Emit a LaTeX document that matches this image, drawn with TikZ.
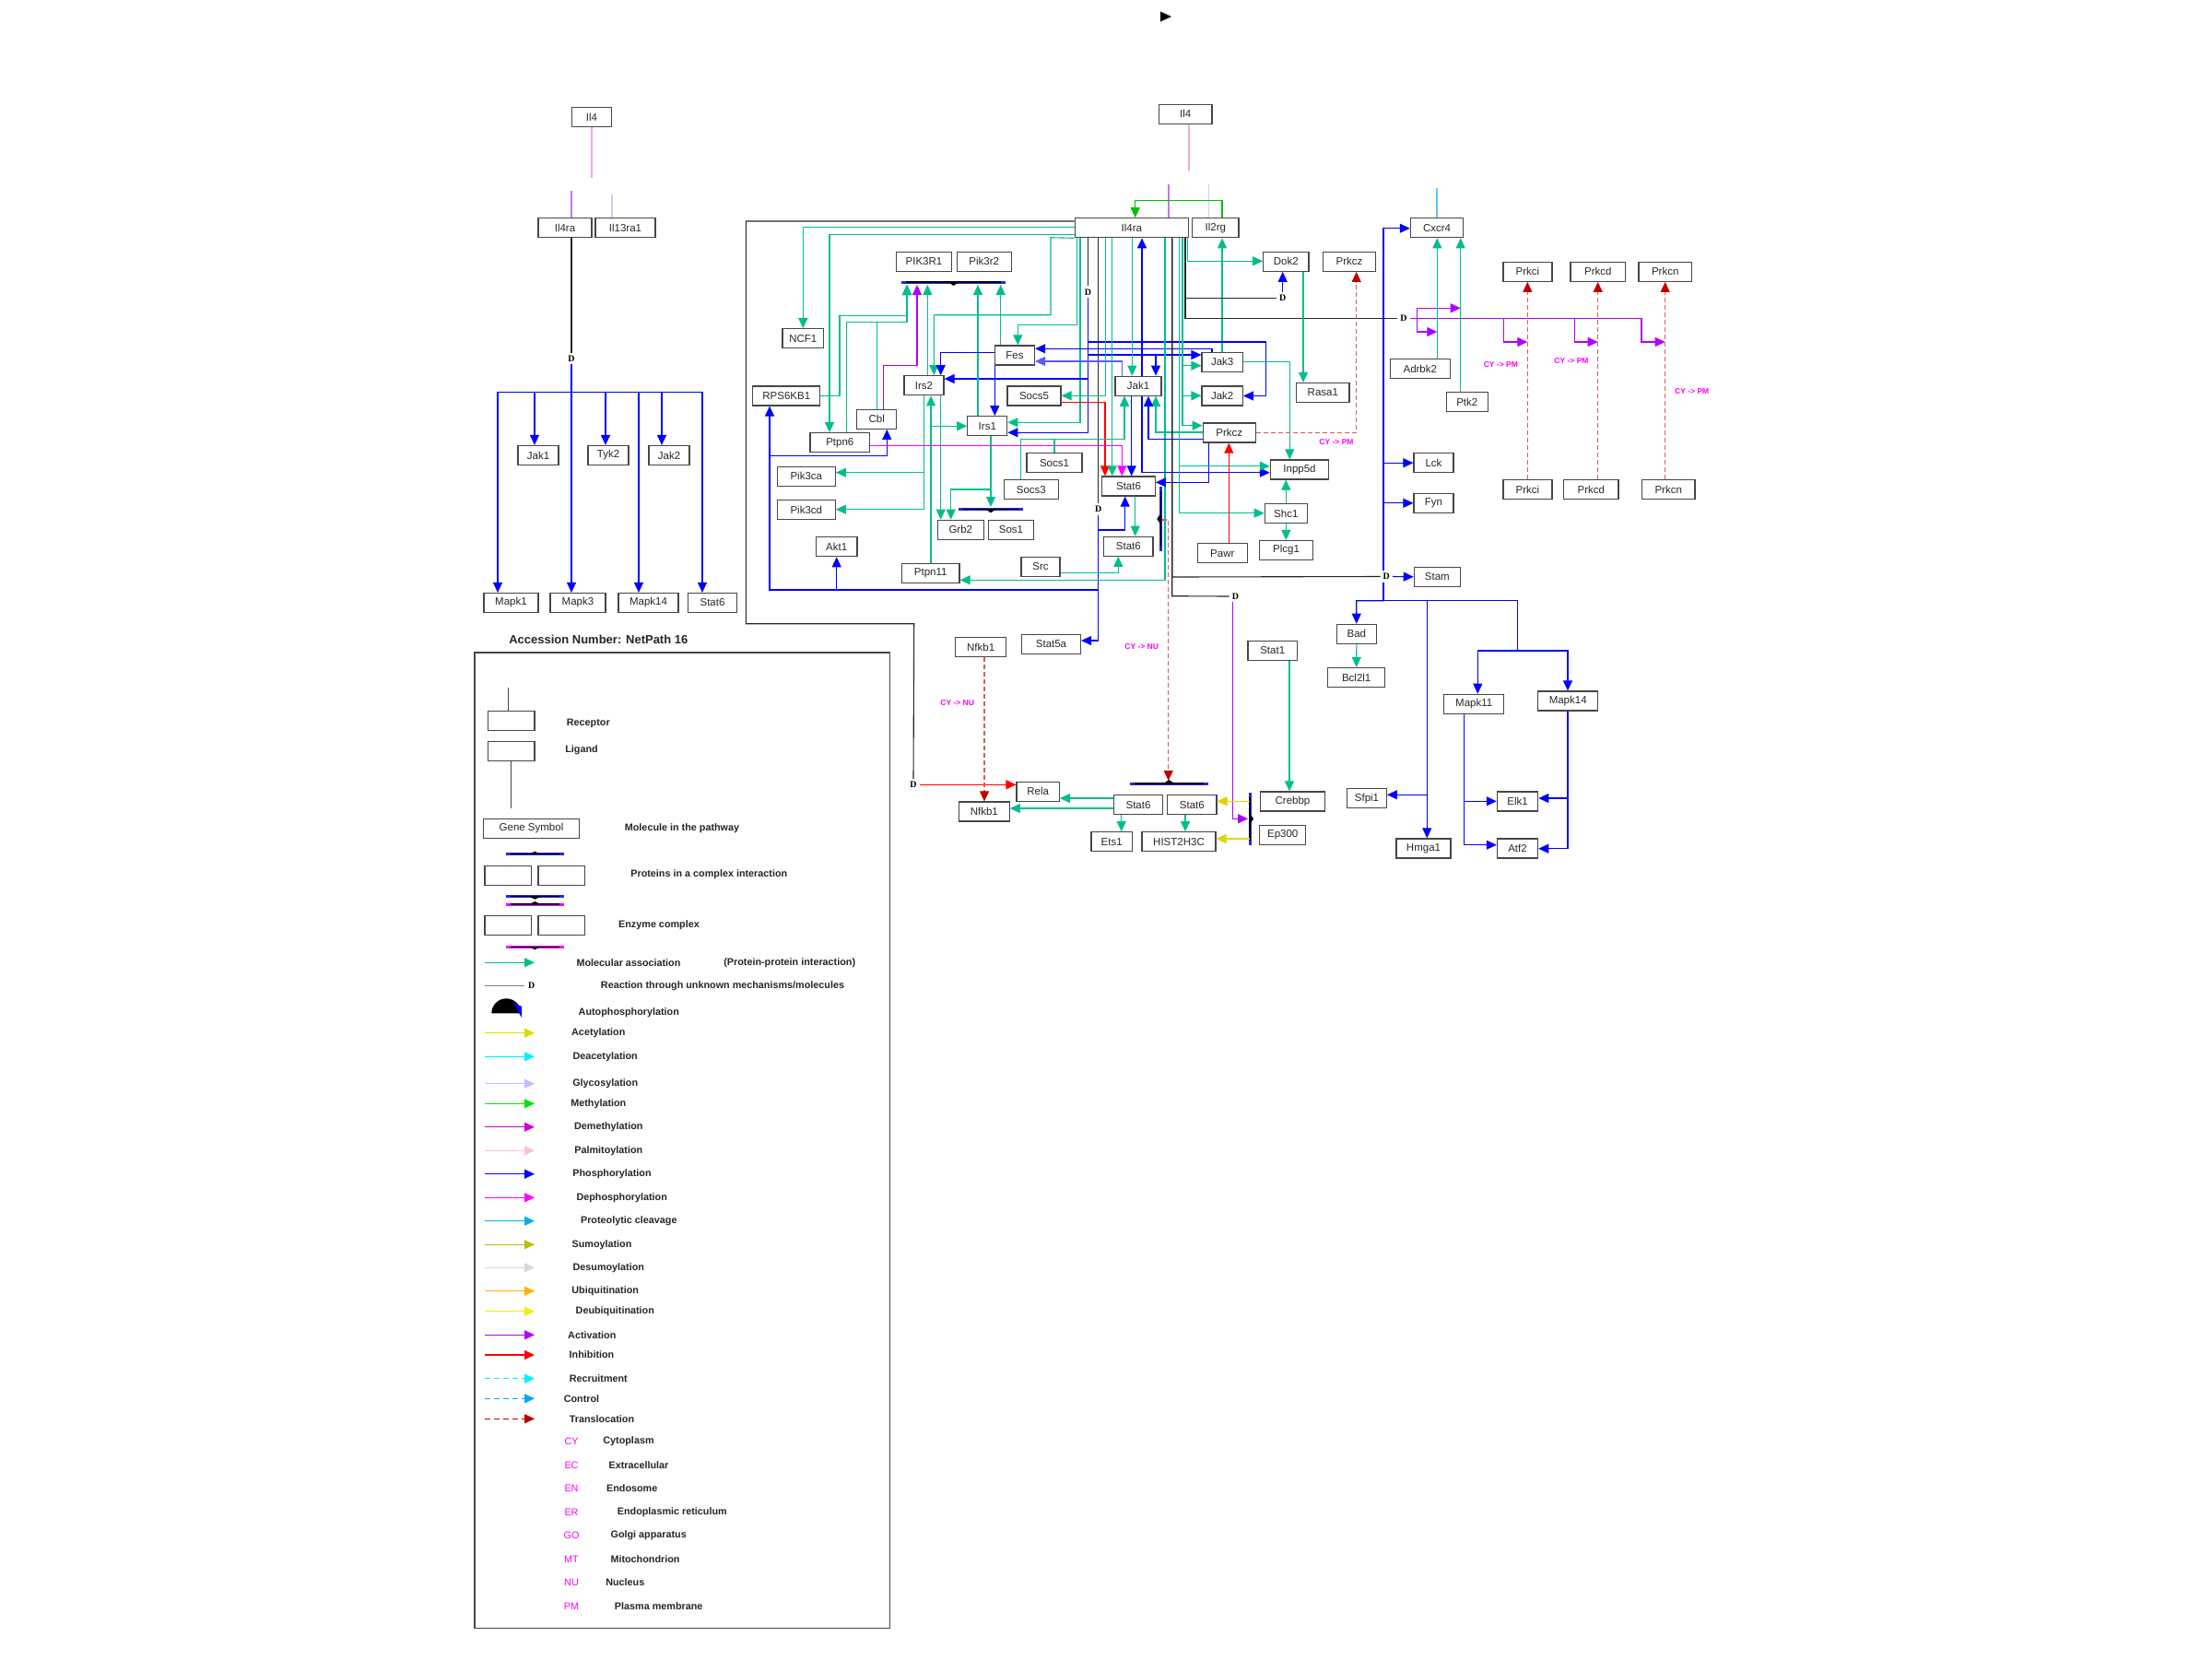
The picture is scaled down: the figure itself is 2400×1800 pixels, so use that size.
\documentclass[tikz,border=0pt]{standalone}
\usepackage{fontspec}
\setmainfont{Liberation Sans}
\newfontfamily\dfont{Liberation Serif}
\usetikzlibrary{arrows.meta}
\definecolor{assoc}{RGB}{0,190,140}
\definecolor{phos}{RGB}{0,0,255}
\definecolor{phosl}{RGB}{90,90,255}
\definecolor{dephos}{RGB}{255,0,255}
\definecolor{activ}{RGB}{176,0,255}
\definecolor{inhib}{RGB}{255,0,0}
\definecolor{transtip}{RGB}{192,0,0}
\definecolor{transl}{RGB}{215,90,90}
\definecolor{methyl}{RGB}{0,190,0}
\definecolor{acetyl}{RGB}{220,215,0}
\definecolor{ligpink}{RGB}{235,170,225}
\definecolor{recpurple}{RGB}{190,120,240}
\definecolor{reclav}{RGB}{215,200,245}
\definecolor{cxblue}{RGB}{90,200,240}
\definecolor{barblue}{RGB}{40,40,220}
\definecolor{boxgray}{RGB}{70,70,70}
\definecolor{txtgray}{RGB}{40,40,40}
\definecolor{lgacet}{RGB}{220,220,0}
\definecolor{lgdeac}{RGB}{0,240,255}
\definecolor{lgglyc}{RGB}{190,190,255}
\definecolor{lgmeth}{RGB}{0,230,0}
\definecolor{lgdemeth}{RGB}{210,0,210}
\definecolor{lgpalm}{RGB}{255,190,225}
\definecolor{lgprot}{RGB}{0,180,230}
\definecolor{lgsumo}{RGB}{190,190,0}
\definecolor{lgdesumo}{RGB}{215,215,215}
\definecolor{lgubiq}{RGB}{255,180,0}
\definecolor{lgdeubiq}{RGB}{240,240,0}
\definecolor{lgrecr}{RGB}{0,240,255}
\definecolor{lgctrl}{RGB}{0,170,240}
\newcommand{\cplxbar}[5]{%
  \draw[line width=3pt,#4] (#1,#3) -- (#2,#3);
  \draw[line width=1.3pt,black] ({#1+5},#3) -- ({#2-5},#3);
  \fill[black] ({(#1+#2)/2-6},#3) -- ({(#1+#2)/2},{#3#5}) -- ({(#1+#2)/2+6},#3) -- cycle;}
\newcommand{\cplxvbar}[5]{%
  \draw[line width=3pt,#4] (#1,#2) -- (#1,#3);
  \draw[line width=1.3pt,black] (#1,{#2+5}) -- (#1,{#3-5});
  \fill[black] (#1,{(#2+#3)/2-6}) -- ({#1#5},{(#2+#3)/2}) -- (#1,{(#2+#3)/2+6}) -- cycle;}
\tikzset{
  gene/.style={draw=boxgray, line width=1.2pt, fill=white, minimum height=21pt, inner sep=0pt, text=txtgray, font=\fontsize{11.5}{13}\selectfont},
  dnode/.style={font=\dfont\bfseries\fontsize{10}{11}\selectfont, inner sep=3pt, text=black},
  ahd/.style={-{Triangle[length=11pt,width=10pt]}},
  cn/.style={line width=1.1pt},
  asc/.style={cn, ahd, draw=assoc},
  ph/.style={cn, ahd, draw=phos},
  phl/.style={cn, ahd, draw=phosl},
  dph/.style={cn, ahd, draw=dephos},
  actv/.style={cn, ahd, draw=activ},
  inh/.style={cn, ahd, draw=inhib},
  mth/.style={cn, ahd, draw=methyl},
  acy/.style={cn, ahd, draw=acetyl},
  trl/.style={cn, -{Triangle[length=11pt,width=10pt,color=transtip]}, draw=transl, dash pattern=on 5pt off 3pt},
  blk/.style={cn, draw=black!85},
  cyl/.style={font=\bfseries\fontsize{8.5}{10}\selectfont, text=dephos},
  lgl/.style={font=\bfseries\fontsize{10.8}{12}\selectfont, text=black!85},
  lgc/.style={font=\fontsize{10.8}{12}\selectfont, text=dephos},
}
\begin{document}
\begin{tikzpicture}[x=1pt,y=-1pt]
\useasboundingbox (0,0) rectangle (2400,1800);
\fill[white] (0,0) rectangle (2400,1800);
\fill[black] (1259,12.5) -- (1271,18) -- (1259,23.5) -- cycle;

% ---------------- left receptor module
\node[gene, minimum width=43pt] (il4L) at (642,127) {Il4};
\node[gene, minimum width=58pt] (il4raL) at (613,247) {Il4ra};
\node[gene, minimum width=65pt] (il13ra1) at (678.5,247) {Il13ra1};
\node[gene, minimum width=44pt] (jak1L) at (584,494) {Jak1};
\node[gene, minimum width=44pt] (tyk2) at (660,494) {Tyk2};
\node[gene, minimum width=44pt] (jak2L) at (726,494) {Jak2};
\node[gene, minimum width=59pt] (mapk1) at (554.5,654) {Mapk1};
\node[gene, minimum width=60pt] (mapk3) at (627,654) {Mapk3};
\node[gene, minimum width=65pt] (mapk14L) at (703.5,654) {Mapk14};
\node[gene, minimum width=53pt] (stat6L) at (773,654) {Stat6};
\node[dnode] (dL) at (620,389) {D};

\draw[cn, draw=ligpink] (il4L.south) -- (642,192.5);
\draw[cn, draw=recpurple] (620,207) -- (il4raL.north -| 620,0);
\draw[cn, draw=reclav] (664,211) -- (il13ra1.north -| 664,0);
\draw[blk] (il4raL.south -| 620,0) -- (dL.north);
\foreach \n/\x in {mapk1/540, jak1L/580, mapk3/620, tyk2/657, mapk14L/693, jak2L/718, stat6L/762}
  \draw[ph] (dL.south) -- (620,425.5) -- (\x,425.5) -- (\n.north -| \x,0);

% ---------------- central nodes
\node[gene, minimum width=57.7pt] (il4R) at (1286.2,123.7) {Il4};
\node[gene, minimum width=123pt] (il4raR) at (1227.8,247.2) {Il4ra};
\node[gene, minimum width=50.3pt] (il2rg) at (1318.8,247.2) {Il2rg};
\node[gene, minimum width=60pt] (pik3r1) at (1002.5,283.7) {PIK3R1};
\node[gene, minimum width=59pt] (pik3r2) at (1067.7,283.7) {Pik3r2};
\node[gene, minimum width=44.7pt] (ncf1) at (871.3,367.2) {NCF1};
\node[gene, minimum width=73pt] (rps6kb1) at (853.3,429.5) {RPS6KB1};
\node[gene, minimum width=43pt] (fes) at (1101,385.5) {Fes};
\node[gene, minimum width=43pt] (irs2) at (1002.5,418.3) {Irs2};
\node[gene, minimum width=58pt] (socs5) at (1122,429.5) {Socs5};
\node[gene, minimum width=43pt] (cbl) at (951.3,454.8) {Cbl};
\node[gene, minimum width=43pt] (irs1) at (1071.3,462.2) {Irs1};
\node[gene, minimum width=64.7pt] (ptpn6) at (911.3,480.2) {Ptpn6};
\node[gene, minimum width=60pt] (socs1) at (1144,502.2) {Socs1};
\node[gene, minimum width=63pt] (pik3ca) at (874.8,516.7) {Pik3ca};
\node[gene, minimum width=63pt] (pik3cd) at (874.8,553) {Pik3cd};
\node[gene, minimum width=59pt] (socs3) at (1118.8,531.2) {Socs3};
\node[gene, minimum width=50pt] (grb2) at (1042.3,574.8) {Grb2};
\node[gene, minimum width=49pt] (sos1) at (1097,574.8) {Sos1};
\node[gene, minimum width=44.7pt] (akt1) at (907.7,593.2) {Akt1};
\node[gene, minimum width=62.7pt] (ptpn11) at (1009.7,622.2) {Ptpn11};
\node[gene, minimum width=42pt] (src) at (1129,614.8) {Src};
\node[gene, minimum width=50pt] (jak1C) at (1235,418.7) {Jak1};
\node[gene, minimum width=44.3pt] (jak3) at (1326.2,392.8) {Jak3};
\node[gene, minimum width=44.3pt] (jak2C) at (1326.2,429.5) {Jak2};
\node[gene, minimum width=57pt] (prkczC) at (1333.7,469.5) {Prkcz};
\node[gene, minimum width=57.7pt] (stat6u) at (1224.5,527.5) {Stat6};
\node[gene, minimum width=53.3pt] (stat6d) at (1224.3,592.8) {Stat6};
\node[gene, minimum width=63.3pt] (inpp5d) at (1410,509.5) {Inpp5d};
\node[gene, minimum width=46pt] (shc1) at (1395.3,557) {Shc1};
\node[gene, minimum width=57.7pt] (plcg1) at (1395.5,597) {Plcg1};
\node[gene, minimum width=54pt] (pawr) at (1326.3,600.3) {Pawr};
\node[gene, minimum width=57.3pt] (rasa1) at (1435.3,426) {Rasa1};
\node[gene, minimum width=49.3pt] (dok2) at (1395.3,283.8) {Dok2};
\node[gene, minimum width=57pt] (prkczT) at (1464,283.8) {Prkcz};
\node[gene, minimum width=57.3pt] (cxcr4) at (1559,247.2) {Cxcr4};
\node[gene, minimum width=65pt] (adrbk2) at (1540.8,400) {Adrbk2};
\node[gene, minimum width=45pt] (ptk2) at (1591.8,436.3) {Ptk2};
\node[gene, minimum width=53pt] (prkciT) at (1657.5,294.8) {Prkci};
\node[gene, minimum width=59.7pt] (prkcdT) at (1733.8,294.8) {Prkcd};
\node[gene, minimum width=57.3pt] (prkcnT) at (1806.7,294.8) {Prkcn};
\node[gene, minimum width=53pt] (prkciB) at (1657.5,531.2) {Prkci};
\node[gene, minimum width=59.3pt] (prkcdB) at (1726.3,531.2) {Prkcd};
\node[gene, minimum width=57.7pt] (prkcnB) at (1810.2,531.2) {Prkcn};
\node[gene, minimum width=43pt] (lck) at (1555.5,502.2) {Lck};
\node[gene, minimum width=43pt] (fyn) at (1555.5,545.8) {Fyn};
\node[gene, minimum width=50pt] (stam) at (1559.3,625.8) {Stam};
\node[gene, minimum width=43pt] (bad) at (1471.8,687.8) {Bad};
\node[gene, minimum width=62pt] (bcl2l1) at (1471.7,735) {Bcl2l1};
\node[gene, minimum width=53.3pt] (stat1) at (1380.7,706) {Stat1};
\node[gene, minimum width=65pt] (mapk11) at (1599.2,763.8) {Mapk11};
\node[gene, minimum width=65pt] (mapk14R) at (1701.2,760.5) {Mapk14};
\node[gene, minimum width=44.3pt] (elk1) at (1646.5,869.5) {Elk1};
\node[gene, minimum width=44.3pt] (atf2) at (1646.5,920.5) {Atf2};
\node[gene, minimum width=42.7pt] (sfpi1) at (1483,866.2) {Sfpi1};
\node[gene, minimum width=59pt] (hmga1) at (1544.5,920.5) {Hmga1};
\node[gene, minimum width=69.7pt] (crebbp) at (1402.5,869.5) {Crebbp};
\node[gene, minimum width=50pt] (ep300) at (1391.7,905.8) {Ep300};
\node[gene, minimum width=55pt] (nfkb1T) at (1064.2,702.2) {Nfkb1};
\node[gene, minimum width=64pt] (stat5a) at (1140.5,698.8) {Stat5a};
\node[gene, minimum width=46.3pt] (rela) at (1126.2,858.8) {Rela};
\node[gene, minimum width=55pt] (nfkb1B) at (1067.8,880.5) {Nfkb1};
\node[gene, minimum width=53.3pt] (stat6a) at (1235,873.2) {Stat6};
\node[gene, minimum width=53.3pt] (stat6b) at (1293.3,873.2) {Stat6};
\node[gene, minimum width=44.3pt] (ets1) at (1206.2,913.2) {Ets1};
\node[gene, minimum width=80pt] (hist) at (1279,913.2) {HIST2H3C};

\node[dnode] (dA) at (1180.5,316.8) {D};
\node[dnode] (dB) at (1191.7,552.4) {D};
\node[dnode] (dC) at (1391.7,323.5) {D};
\node[dnode] (dE) at (1523,345.7) {D};
\node[dnode] (dF) at (1504.3,625.5) {D};
\node[dnode] (dG) at (1340.5,647) {D};
\node[dnode] (dH) at (991,851.3) {D};

% complexes
\cplxbar{978}{1091}{306}{barblue}{+4}
\coordinate (pikbar) at (1034,309);
\cplxbar{1040}{1110}{552.3}{barblue}{+4}
\coordinate (grbbar) at (1075,550);
\cplxbar{1226}{1310.7}{850}{barblue}{-4}
\coordinate (nucbar) at (1268,847);
\cplxvbar{1259.3}{528}{598}{barblue}{-4}
\cplxvbar{1356}{860}{916.7}{barblue}{+4}
\coordinate (cbbr) at (1354,888.3);
\coordinate (tci) at (1657.3,371);
\coordinate (tcd) at (1733.7,371);
\coordinate (tcn) at (1806.7,371);
\coordinate (tptk) at (1584.7,334.3);
\coordinate (tadr) at (1559.3,360);

% ---------------- right receptor
\draw[cn, draw=ligpink] (il4R.south -| 1290,0) -- (1290,185);
\draw[cn, draw=recpurple] (1268,200) -- (il4raR.north -| 1268,0);
\draw[cn, draw=reclav] (1311.7,200) -- (il2rg.north -| 1311.7,0);
\draw[mth] (il2rg.north -| 1326,0) -- (1326,217.7) -- (1231.7,217.7) -- (il4raR.north -| 1231.7,0);
\draw[asc] (jak3.north -| 1326,0) -- (il2rg.south -| 1326,0);

% black frame line to Rela
\draw[blk] (il4raR.west |- 0,240) -- (809.3,240) -- (809.3,676.7) -- (991.7,676.7) -- (dH.north);
\draw[inh] (dH.east) -- (rela.west |- dH.east);

% green lines from Il4ra to left
\draw[asc] (il4raR.west |- 0,246.7) -- (871.3,246.7) -- (ncf1.north);
\draw[asc] (il4raR.west |- 0,254.3) -- (900,254.3) -- (ptpn6.north -| 900,0);
\draw[asc] (il4raR.south west) -- (1140,257.7) -- (1140,341.7) -- (1013.3,341.7) -- (irs2.north -| 1013.3,0);
\draw[asc] (il4raR.south -| 1168.5,0) -- (1168.5,352.7) -- (1104.3,352.7) -- (fes.north -| 1104.3,0);
\draw[asc] (il4raR.south -| 1172,0) -- (1172,458.3) -- (irs1.east |- 0,458.3);

% D(A)
\draw[blk] (il4raR.south -| 1180.5,0) -- (dA.north);
\draw[ph] (dA.south) -- (1180.5,469.3) -- (irs1.east |- 0,469.3);
\draw[ph] (dA.south) -- (1180.5,411) -- (irs2.east |- 0,411);
\draw[ph] (dA.south) -- (1180.5,385) -- (jak3.west |- 0,385);
\draw[ph] (dA.south) -- (1180.5,385) -- (1254,385) -- (jak1C.north -| 1254,0);
\draw[ph] (dA.south) -- (1180.5,371) -- (1373.3,371) -- (1373.3,429.5) -- (jak2C.east);

% D(B)
\draw[blk] (il4raR.south -| 1191.7,0) -- (dB.north);
\draw[ph] (dB.south) -- (1191.7,695) -- (stat5a.east |- 0,695);
\draw[ph] (dB.south) -- (1191.7,575) -- (1220.7,575) -- (stat6u.south -| 1220.7,0);
\draw[ph] (dB.south) -- (1191.7,640) -- (835,640) -- (rps6kb1.south -| 835,0);
\draw[ph] (dB.south) -- (1191.7,640) -- (907.7,640) -- (akt1.south);
\draw[ph] (dB.south) -- (1191.7,640) -- (835,640) -- (835,494.3) -- (962.3,494.3) -- (cbl.south -| 962.3,0);

% PIK3 complex
\draw[asc] (rps6kb1.east) -- (911,429.5) -- (911,342.3) -- (984,342.3) -- (984,0 |- pikbar);
\draw[asc] (ptpn6.north -| 918.3,0) -- (918.3,349.3) -- (984,349.3) -- (984,0 |- pikbar);
\draw[asc] (cbl.north -| 951.7,0) -- (951.7,349.3) -- (984,349.3) -- (984,0 |- pikbar);
\draw[actv] (cbl.north -| 958.7,0) -- (958.7,396.7) -- (995,396.7) -- (995,0 |- pikbar);
\draw[asc] (irs2.north -| 1006.3,0) -- (1006.3,0 |- pikbar);
\draw[asc] (irs1.north -| 1061,0) -- (1061,0 |- pikbar);
\draw[asc] (fes.north -| 1085.7,0) -- (1085.7,0 |- pikbar);

% Irs2 / Irs1
\draw[asc] (irs2.south -| 1002.3,0) -- (1002.3,512.7) -- (pik3ca.east |- 0,512.7);
\draw[asc] (irs2.south -| 1002.3,0) -- (1002.3,552.7) -- (pik3cd.east |- 0,552.7);
\draw[asc] (irs2.south -| 1020.7,0) -- (grb2.north -| 1020.7,0);
\draw[asc] (ptpn11.north -| 1010,0) -- (irs2.south -| 1010,0);
\draw[asc] (ptpn11.north -| 1010,0) -- (1010,462.3) -- (irs1.west |- 0,462.3);
\draw[asc] (irs1.south -| 1075,0) -- (1075,531) -- (1031.7,531) -- (grb2.north -| 1031.7,0);
\draw[asc] (irs1.south -| 1075,0) -- (grbbar);

% Fes
\draw[ph] (fes.west |- 0,382.3) -- (1020.7,382.3) -- (irs2.north -| 1020.7,0);
\draw[ph] (fes.south -| 1079.3,0) -- (irs1.north -| 1079.3,0);
\draw[ph] (jak3.north -| 1315,0) -- (1315,378.3) -- (fes.east |- 0,378.3);
\draw[phl] (jak1C.north -| 1217.3,0) -- (1217.3,392) -- (fes.east |- 0,392);

% Ptpn11, Src, Stat6
\draw[asc] (il4raR.south -| 1264,0) -- (1264,629.3) -- (ptpn11.east |- 0,629.3);
\draw[asc] (src.east |- 0,621.7) -- (1213.3,621.7) -- (stat6d.south -| 1213.3,0);
\draw[asc] (stat6u.south -| 1231.7,0) -- (stat6d.north -| 1231.7,0);
\draw[asc] (il4raR.south -| 1199.3,0) -- (1199.3,429.3) -- (socs5.east |- 0,429.3);
\draw[inh] (socs5.east |- 0,436.7) -- (1199,436.7) -- (stat6u.north -| 1199,0);
\draw[asc] (il4raR.south -| 1206.7,0) -- (stat6u.north -| 1206.7,0);
\draw[dph] (ptpn6.east |- 0,483.7) -- (1217.3,483.7) -- (stat6u.north -| 1217.3,0);
\draw[ph] (jak1C.south -| 1227.7,0) -- (stat6u.north -| 1227.7,0);
\draw[asc] (il4raR.south -| 1228.3,0) -- (jak1C.north -| 1228.3,0);
\draw[ph] (jak1C.north -| 1239,0) -- (il4raR.south -| 1239,0);
\draw[ph] (jak1C.south -| 1239,0) -- (1239,512.7) -- (inpp5d.west |- 0,512.7);
\draw[asc] (socs3.north -| 1107.7,0) -- (1107.7,476.7) -- (1220,476.7) -- (jak1C.south -| 1220,0);
\draw[asc] (socs1.north -| 1144,0) -- (1144,476.7) -- (1220,476.7) -- (jak1C.south -| 1220,0);
\draw[asc] (prkczC.west |- 0,469) -- (1254,469) -- (jak1C.south -| 1254,0);
\draw[ph] (prkczC.west |- 0,476.7) -- (1246,476.7) -- (jak1C.south -| 1246,0);
\draw[ph] (prkczC.south -| 1311.7,0) -- (1311.7,523.3) -- (stat6u.east |- 0,523.3);
\draw[asc] (il4raR.south -| 1283,0) -- (1283,396.7) -- (jak3.west |- 0,396.7);
\draw[asc] (il4raR.south -| 1283,0) -- (1283,429.3) -- (jak2C.west |- 0,429.3);
\draw[asc] (il4raR.south -| 1283,0) -- (1283,461.7) -- (prkczC.west |- 0,461.7);
\draw[asc] (il4raR.south -| 1279.3,0) -- (1279.3,505.7) -- (inpp5d.west |- 0,505.7);
\draw[asc] (il4raR.south -| 1279.3,0) -- (1279.3,556.7) -- (shc1.west |- 0,556.7);
\draw[asc] (jak3.east |- 0,392.3) -- (1399.3,392.3) -- (inpp5d.north -| 1399.3,0);
\draw[asc] (shc1.north) -- (shc1.north |- inpp5d.south);
\draw[asc] (shc1.south) -- (shc1.south |- plcg1.north);
\draw[inh] (pawr.north -| 1333.3,0) -- (prkczC.south -| 1333.3,0);

% Dok2 and D(C), D(E)
\draw[asc] (il4raR.south -| 1288.8,0) -- (1288.8,283.3) -- (dok2.west |- 0,283.3);
\draw[blk] (il4raR.south -| 1286,0) -- (1286,323.5) -- (dC.west);
\draw[blk] (il4raR.south -| 1286,0) -- (1286,345.7) -- (dE.west);
\draw[ph] (dC.north) -- (dok2.south -| dC.north);
\draw[asc] (dok2.south -| 1414,0) -- (rasa1.north -| 1414,0);
\draw[actv] (dE.east) -- (1631.7,345.7) -- (1631.7,371) -- (tci);
\draw[actv] (dE.east) -- (1708.3,345.7) -- (1708.3,371) -- (tcd);
\draw[actv] (dE.east) -- (1781,345.7) -- (1781,371) -- (tcn);
\draw[actv] (dE.east) -- (1537.3,345.7) -- (1537.3,334.3) -- (tptk);
\draw[actv] (dE.east) -- (1537.3,345.7) -- (1537.3,360) -- (tadr);

% translocations
\draw[trl] (prkciB.north -| 1657.3,0) -- (prkciT.south -| 1657.3,0);
\draw[trl] (prkcdB.north -| 1733.7,0) -- (prkcdT.south -| 1733.7,0);
\draw[trl] (prkcnB.north -| 1806.7,0) -- (prkcnT.south -| 1806.7,0);
\draw[trl] (prkczC.east) -- (1471.7,469.5) -- (prkczT.south -| 1471.7,0);
\draw[trl] (nfkb1T.south -| 1068,0) -- (nfkb1B.north -| 1068,0);
\draw[trl] (1261,564) -- (1267.7,564) -- (1267.7,0 |- nucbar);
\node[cyl] at (1450,480) {CY -> PM};
\node[cyl] at (1628.3,396) {CY -> PM};
\node[cyl] at (1705,392) {CY -> PM};
\node[cyl] at (1835.7,425) {CY -> PM};
\node[cyl] at (1038.7,762.7) {CY -> NU};
\node[cyl] at (1238.7,701.7) {CY -> NU};

% Cxcr4
\draw[asc] (adrbk2.north -| 1559.3,0) -- (cxcr4.south -| 1559.3,0);
\draw[asc] (ptk2.north -| 1584.7,0) -- (cxcr4.south -| 1584.7,0);
\draw[cn, draw=cxblue] (cxcr4.north) -- (1559,204);

% D(F), D(G)
\draw[blk] (il4raR.south -| 1271.7,0) -- (1271.7,626) -- (dF.west);
\draw[blk] (il4raR.south -| 1271.7,0) -- (1271.7,646.7) -- (dG.west);
\draw[ph] (dF.east) -- (stam.west);
\draw[ph] (dF.north -| 1501,0) -- (1501,247.7) -- (cxcr4.west |- 0,247.7);
\draw[ph] (dF.north -| 1501,0) -- (1501,502.2) -- (lck.west);
\draw[ph] (dF.north -| 1501,0) -- (1501,545.8) -- (fyn.west);
\draw[ph] (dF.south -| 1501,0) -- (1501,651.7) -- (1471.7,651.7) -- (bad.north);
\draw[ph] (dF.south -| 1501,0) -- (1501,651.7) -- (1548.3,651.7) -- (hmga1.north -| 1548.3,0);
\draw[ph] (dF.south -| 1501,0) -- (1501,651.7) -- (1548.3,651.7) -- (1548.3,862.3) -- (sfpi1.east |- 0,862.3);
\draw[ph] (dF.south -| 1501,0) -- (1501,651.7) -- (1646.7,651.7) -- (1646.7,706) -- (1603.3,706) -- (mapk11.north -| 1603.3,0);
\draw[ph] (dF.south -| 1501,0) -- (1501,651.7) -- (1646.7,651.7) -- (1646.7,706) -- (1701,706) -- (mapk14R.north -| 1701,0);
\draw[asc] (bad.south) -- (bcl2l1.north);
\draw[ph] (mapk11.south -| 1588.3,0) -- (1588.3,916.7) -- (atf2.west |- 0,916.7);
\draw[ph] (mapk11.south -| 1588.3,0) -- (1588.3,869.3) -- (elk1.west |- 0,869.3);
\draw[ph] (mapk14R.south -| 1701,0) -- (1701,920.7) -- (atf2.east |- 0,920.7);
\draw[ph] (mapk14R.south -| 1701,0) -- (1701,866) -- (elk1.east |- 0,866);
\draw[asc] (stat1.south -| 1399,0) -- (crebbp.north -| 1399,0);
\draw[actv] (dG.south -| 1337.3,0) -- (1337.3,888.3) -- (cbbr);
\draw[acy] (1356,869.3) -- (stat6b.east |- 0,869.3);
\draw[acy] (1356,910) -- (hist.east |- 0,910);

% nucleus
\draw[asc] (stat6a.west |- 0,866) -- (rela.east |- 0,866);
\draw[asc] (stat6a.west |- 0,877) -- (nfkb1B.east |- 0,877);
\draw[asc] (stat6a.south -| 1216.7,0) -- (ets1.north -| 1216.7,0);
\draw[asc] (stat6b.south -| 1286,0) -- (hist.north -| 1286,0);

% ---------------- legend
\draw[draw=boxgray, line width=1.5pt] (515,708) rectangle (965.3,1766.7);
\node[font=\bfseries\fontsize{13}{15}\selectfont, text=black!85] (acc) at (649.3,694.3) {Accession Number: NetPath 16};
\node[gene, minimum width=50.7pt] (lgrec) at (554.7,782.2) {};
\draw[cn, draw=boxgray] (lgrec.north -| 551.3,0) -- (551.3,746);
\node[lgl] at (638.3,785) {Receptor};
\node[gene, minimum width=50.7pt] (lglig) at (554.7,814.8) {};
\draw[cn, draw=boxgray] (lglig.south) -- (554.7,876.7);
\node[lgl] at (631,814) {Ligand};
\node[gene, minimum width=103.6pt] (lggene) at (576.5,898.8) {Gene Symbol};
\node[lgl] at (740,898.3) {Molecule in the pathway};
\cplxbar{549}{611.7}{926.7}{barblue}{-3}
\node[gene, minimum width=50.3pt] (lgp1) at (551.2,949.8) {};
\node[gene, minimum width=50.3pt] (lgp2) at (609.2,949.8) {};
\node[lgl] at (769.3,949) {Proteins in a complex interaction};
\cplxbar{549}{611.7}{972.7}{barblue}{+3}
\cplxbar{549}{611.7}{981}{dephos}{-3}
\node[gene, minimum width=50.3pt] (lge1) at (551.2,1004.2) {};
\node[gene, minimum width=50.3pt] (lge2) at (609.2,1004.2) {};
\node[lgl] at (715,1004) {Enzyme complex};
\cplxbar{549}{611.7}{1027.3}{dephos}{+3}
\draw[asc] (526,1044.3) -- (580,1044.3);
\node[lgl] at (682,1044.3) {Molecular association};
\node[lgl] at (856.7,1044.3) {(Protein-protein interaction)};
\draw[line width=1.5pt, draw=gray] (526,1069.3) -- (568.7,1069.3);
\node[dnode] at (576.7,1069.3) {D};
\node[lgl] at (784,1069.3) {Reaction through unknown mechanisms/molecules};
\fill[black] (533.3,1099.3) arc[start angle=180,end angle=0,radius=16pt] -- cycle;
\fill[phos] (557,1088) -- (566,1092) -- (566,1104) -- cycle;
\node[lgl] at (682.3,1098.3) {Autophosphorylation};
\foreach \yy/\col/\lab/\xx in {1120.7/lgacet/Acetylation/649.3, 1146.3/lgdeac/Deacetylation/656.7, 1175.7/lgglyc/Glycosylation/656.7, 1197.3/lgmeth/Methylation/649.3, 1222.7/lgdemeth/Demethylation/660.3, 1248.3/lgpalm/Palmitoylation/660.3, 1273.7/phos/Phosphorylation/664, 1299.3/dephos/Dephosphorylation/674.7, 1324.7/lgprot/Proteolytic cleavage/682.3, 1350.3/lgsumo/Sumoylation/653, 1375.3/lgdesumo/Desumoylation/660.3, 1400.7/lgubiq/Ubiquitination/656.7, 1422.7/lgdeubiq/Deubiquitination/667.3, 1448.3/activ/Activation/642.3, 1470/inhib/Inhibition/642}
{
  \draw[cn, ahd, draw=\col] (526,\yy) -- (580,\yy);
  \node[lgl] at (\xx,\yy) {\lab};
}
\foreach \yy/\col/\lab/\xx in {1495.7/lgrecr/Recruitment/649.3, 1517.3/lgctrl/Control/631, 1539.3/transtip/Translocation/653}
{
  \draw[cn, ahd, draw=\col, dash pattern=on 6pt off 4pt] (526,\yy) -- (580,\yy);
  \node[lgl] at (\xx,\yy) {\lab};
}
\foreach \yy/\ab/\lab/\xx in {1564/CY/Cytoplasm/682, 1590/EC/Extracellular/693, 1615/EN/Endosome/685.7, 1641/ER/Endoplasmic reticulum/729.3, 1666/GO/Golgi apparatus/703.7, 1692/MT/Mitochondrion/700, 1717/NU/Nucleus/678.3, 1743/PM/Plasma membrane/714.7}
{
  \node[lgc] at (620,\yy) {\ab};
  \node[lgl] at (\xx,\yy) {\lab};
}
\end{tikzpicture}
\end{document}
